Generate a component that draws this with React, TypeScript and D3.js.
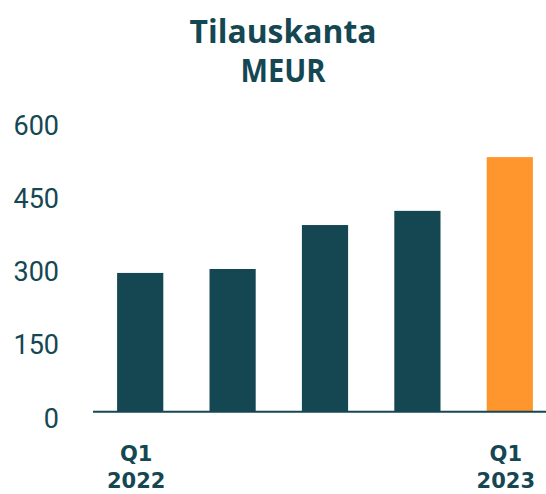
import React from "react";
import * as d3 from "d3";

const categories = ["Q1 2022", "Q2 2022", "Q3 2022", "Q4 2022", "Q1 2023"];
const values = [284, 292, 382, 411, 521];
const barColors = ["#154753", "#154753", "#154753", "#154753", "#FF962D"];
const yTicks = [0, 150, 300, 450, 600];
const xLabels = [["Q1", "2022"], null, null, null, ["Q1", "2023"]];
const titleLines = ["Tilauskanta", "MEUR"];
const titleWidths = [187, 85];

const W = 546;
const H = 494;
const TEAL = "#154753";

export default function App() {
  const x = d3.scaleBand<string>().domain(categories).range([94, 556]).paddingInner(0.5).paddingOuter(0.25);
  const y = d3.scaleLinear().domain([0, 600]).range([411.7, 118.5]);
  return (
    <svg width={W} height={H} style={{ position: "absolute", left: 0, top: 0, background: "#fff" }}>
      {titleLines.map((t, i) => (
        <text key={t} x={283} y={43 + i * 39} textAnchor="middle" fill={TEAL}
          textLength={titleWidths[i]} lengthAdjust="spacingAndGlyphs"
          style={{ fontFamily: "Open Sans", fontWeight: 700, fontSize: 32 }}>{t}</text>
      ))}
      {yTicks.map((t) => (
        <text key={t} x={59} y={y(t) + 16} textAnchor="end" fill={TEAL}
          style={{ fontFamily: "Roboto", fontWeight: 400, fontSize: 27 }}>{t}</text>
      ))}
      {categories.map((c, i) => (
        <rect key={c} x={x(c)} y={y(values[i])} width={x.bandwidth()} height={y(0) - y(values[i])} fill={barColors[i]} />
      ))}
      <line x1={93} x2={W} y1={y(0)} y2={y(0)} stroke={TEAL} strokeWidth={2} />
      {categories.map((c, i) => {
        const l = xLabels[i];
        if (!l) return null;
        const cx = (x(c) as number) + x.bandwidth() / 2 - 4;
        return (
          <g key={c}>
            {l.map((s, j) => (
              <text key={s} x={cx} y={461 + j * 27} textAnchor="middle" fill={TEAL}
                style={{ fontFamily: "DejaVu Sans", fontWeight: 700, fontSize: 21 }}>{s}</text>
            ))}
          </g>
        );
      })}
    </svg>
  );
}
